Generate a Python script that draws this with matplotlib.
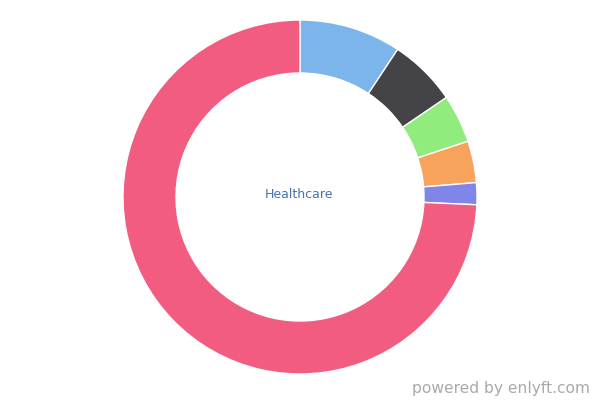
import matplotlib.pyplot as plt

# slice shares in percent, clockwise from the top
labels = ['A', 'B', 'C', 'D', 'E', 'Other']
shares = [9.3, 6.2, 4.4, 3.8, 2.0, 74.3]
colors = ['#7cb5ec', '#434348', '#90ed7d', '#f7a35c', '#8085e9', '#f15c80']

fig = plt.figure(figsize=(6, 4), dpi=100)
ax = fig.add_axes([0, 0, 1, 1])

ax.pie(shares, colors=colors, startangle=90, counterclock=False,
       center=(300, 203), radius=177,
       wedgeprops=dict(width=53, edgecolor='white', linewidth=1))

# pie() resets the limits, so set them afterwards (pixel coords)
ax.set_xlim(0, 600)
ax.set_ylim(0, 400)
ax.set_aspect('equal')
ax.axis('off')

ax.text(299, 206, 'Healthcare', ha='center', va='center', fontsize=9, color='#4572a7')
ax.text(590, 11, 'powered by enlyft.com', ha='right', va='center', fontsize=11.2, color='#aaaaaa')

fig.savefig('out.png', dpi=100)
